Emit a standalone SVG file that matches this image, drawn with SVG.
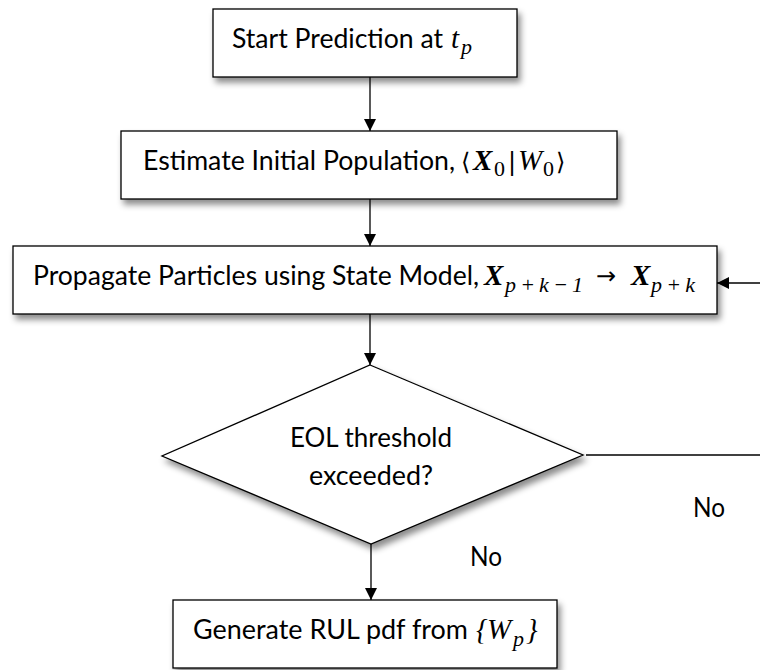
<svg xmlns="http://www.w3.org/2000/svg" width="760" height="670" viewBox="0 0 760 670">
  <defs>
    <filter id="sh" x="-10%" y="-20%" width="125%" height="150%">
      <feDropShadow dx="3" dy="5" stdDeviation="3" flood-color="#000" flood-opacity="0.45"/>
    </filter>
    <marker id="arr" markerWidth="12" markerHeight="12" viewBox="0 0 12 12" refX="12" refY="6" orient="auto" markerUnits="userSpaceOnUse">
      <path d="M0,0 L12,6 L0,12 Z" fill="#000"/>
    </marker>
    <style>
      .box { fill: #fff; stroke: #000; stroke-width: 1.3; filter: url(#sh); }
      .t { font-family: Lato, "Liberation Sans", sans-serif; font-size: 26px; fill: #000; }
      .m { font-family: "Liberation Serif", "DejaVu Serif", serif; font-style: italic; font-size: 29px; fill: #000; }
      .mb { font-family: "Liberation Serif", "DejaVu Serif", serif; font-style: italic; font-weight: bold; font-size: 29px; fill: #000; }
      .s { font-family: "Liberation Serif", "DejaVu Serif", serif; font-style: italic; font-size: 22px; fill: #000; }
      .sn { font-family: "Liberation Serif", "DejaVu Serif", serif; font-size: 22px; fill: #000; }
      .sym { font-family: "DejaVu Sans", sans-serif; font-size: 24px; fill: #000; }
      .c { fill: none; stroke: #000; stroke-width: 1.3; }
    </style>
  </defs>

  <g id="connectors">
    <line class="c" x1="370" y1="77" x2="370" y2="131" marker-end="url(#arr)"/>
    <line class="c" x1="370" y1="199" x2="370" y2="246" marker-end="url(#arr)"/>
    <line class="c" x1="370" y1="314" x2="370" y2="365" marker-end="url(#arr)"/>
    <line class="c" x1="371" y1="544" x2="371" y2="600" marker-end="url(#arr)"/>
    <line class="c" x1="586" y1="455" x2="760" y2="455" stroke="#333"/>
    <line class="c" x1="760" y1="283" x2="717" y2="283" marker-end="url(#arr)"/>
    <text class="t" x="470" y="566" textLength="32" lengthAdjust="spacingAndGlyphs">No</text>
    <text class="t" x="693" y="517" textLength="32" lengthAdjust="spacingAndGlyphs">No</text>
  </g>

  <g id="start">
    <rect class="box" x="213" y="9" width="304" height="68"/>
    <text class="t" x="232" y="48" textLength="211" lengthAdjust="spacingAndGlyphs">Start Prediction at</text>
    <text class="m" x="451" y="48">t</text>
    <text class="s" x="461" y="54">p</text>
  </g>

  <g id="estimate">
    <rect class="box" x="121" y="131" width="496" height="68"/>
    <text class="t" x="143" y="170" textLength="312" lengthAdjust="spacingAndGlyphs">Estimate Initial Population,</text>
    <text class="sym" x="461" y="170">⟨</text>
    <text class="mb" x="473" y="170">X</text>
    <text class="sn" x="494" y="176">0</text>
    <text class="sym" x="508" y="170">|</text>
    <text class="m" x="518" y="170">W</text>
    <text class="sn" x="543" y="176">0</text>
    <text class="sym" x="556" y="170">⟩</text>
  </g>

  <g id="propagate">
    <rect class="box" x="13" y="246" width="704" height="68"/>
    <text class="t" x="33" y="285" textLength="446" lengthAdjust="spacingAndGlyphs">Propagate Particles using State Model,</text>
    <text class="mb" x="484" y="285">X</text>
    <text class="s" x="505" y="292" textLength="78" lengthAdjust="spacing">p+k−1</text>
    <text class="sym" x="596" y="284" font-size="22">→</text>
    <text class="mb" x="631" y="285">X</text>
    <text class="s" x="651" y="292" textLength="44" lengthAdjust="spacing">p+k</text>
  </g>

  <g id="decision">
    <polygon class="box" points="370,365 583,455 371,544 162,456"/>
    <text class="t" x="290" y="447" textLength="162" lengthAdjust="spacingAndGlyphs">EOL threshold</text>
    <text class="t" x="309" y="485" textLength="124" lengthAdjust="spacingAndGlyphs">exceeded?</text>
  </g>

  <g id="generate">
    <rect class="box" x="173" y="600" width="384" height="68"/>
    <text class="t" x="193" y="639" textLength="275" lengthAdjust="spacingAndGlyphs">Generate RUL pdf from</text>
    <text class="m" x="476" y="639" font-style="normal">{</text>
    <text class="m" x="487" y="639">W</text>
    <text class="s" x="513" y="646">p</text>
    <text class="m" x="526" y="639" font-style="normal">}</text>
  </g>
</svg>
